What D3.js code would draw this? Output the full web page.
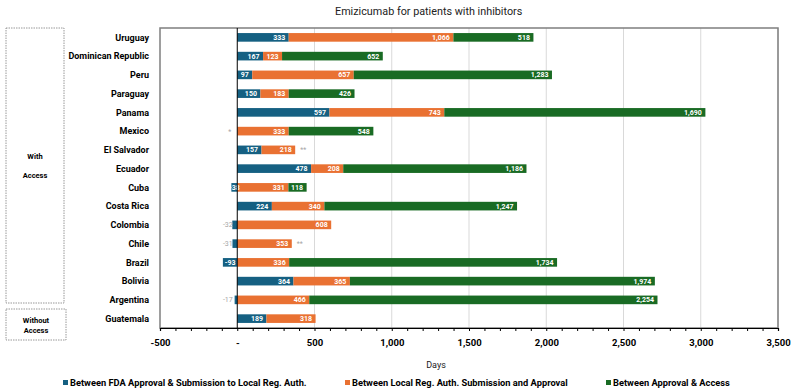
<!DOCTYPE html>
<html><head><meta charset="utf-8">
<script src="https://cdn.jsdelivr.net/npm/d3@7"></script>
<style>
body{margin:0;background:#fff;}
svg{display:block;font-family:Roboto, "Liberation Sans", sans-serif;}
</style></head>
<body><svg id="c" width="794" height="391"></svg>
<script>
const title = "Emizicumab for patients with inhibitors";
const countries = ["Uruguay","Dominican Republic","Peru","Paraguay","Panama","Mexico","El Salvador","Ecuador","Cuba","Costa Rica","Colombia","Chile","Brazil","Bolivia","Argentina","Guatemala"];
const fdaToSubmission   = [333,167,97,150,597,0,157,478,-38,224,-32,-31,-93,364,-17,189];
const submissionToApproval = [1066,123,657,183,743,333,218,208,331,340,608,353,336,365,466,318];
const approvalToAccess  = [518,652,1283,426,1690,548,0,1186,118,1247,0,0,1734,1974,2254,0];
const beforeNotes = ["","","","","","*","","","","","","","","","",""];
const afterNotes  = ["","","","","","","**","","","","","**","","","",""];
const seriesNames = ["Between FDA Approval & Submission to Local Reg. Auth.","Between Local Reg. Auth. Submission and Approval","Between Approval & Access"];
const tickValues = [-500,0,500,1000,1500,2000,2500,3000,3500];
const groups = [{label:["With","Access"]},{label:["Without","Access"]}];
const colors = ["#156082","#E97132","#196B24"];

const fmt = d3.formatLocale({decimal:".",thousands:",",grouping:[3],currency:["$",""],minus:"-"}).format(",");

const svg = d3.select("#c");
const m = {l:160, r:778, t:28, b:328};
const x = d3.scaleLinear().domain([-500,3500]).range([m.l,m.r]);
const y = d3.scaleBand().domain(countries).range([m.t,m.b]).paddingInner(0.54).paddingOuter(0.27);

const keys = ["a","b","c"];
const rows = countries.map((c,i)=>({country:c,a:fdaToSubmission[i],b:submissionToApproval[i],c:approvalToAccess[i],i}));
const stacked = d3.stack().keys(keys).offset(d3.stackOffsetDiverging)(rows);

// gridlines
svg.append("g").selectAll("line").data(d3.range(0,3501,500)).join("line")
  .attr("x1",d=>x(d)).attr("x2",d=>x(d)).attr("y1",m.t).attr("y2",m.b)
  .attr("stroke",d=>d===0?"none":"#d9d9d9").attr("stroke-width",1);

// plot border
svg.append("rect").attr("x",m.l).attr("y",m.t).attr("width",m.r-m.l).attr("height",m.b-m.t)
  .attr("fill","none").attr("stroke","#7f7f7f").attr("stroke-width",1.5);

// bars
stacked.forEach((s,si)=>{
  svg.append("g").selectAll("rect").data(s.filter(d=>d[1]!==d[0])).join("rect")
    .attr("x",d=>x(Math.min(d[0],d[1]))).attr("width",d=>Math.abs(x(d[1])-x(d[0])))
    .attr("y",d=>y(d.data.country)).attr("height",y.bandwidth())
    .attr("fill",colors[si]);
});

// labels
const lab = svg.append("g").attr("font-size","7px").attr("font-weight","700");
stacked.forEach((s,si)=>{
  s.forEach(d=>{
    const v = d.data[keys[si]];
    if(!v) return;
    const cy = y(d.data.country)+y.bandwidth()/2;
    const txt = fmt(v);
    if(v>0){
      lab.append("text").attr("x",x(d[1])-3.5).attr("y",cy).attr("dy","0.35em")
        .attr("text-anchor","end").attr("fill","#fff").text(txt);
    } else if(Math.abs(v)>=35){
      lab.append("text").attr("x",(x(d[0])+x(d[1]))/2).attr("y",cy).attr("dy","0.35em")
        .attr("text-anchor","middle").attr("fill","#fff").text(txt);
    } else {
      lab.append("text").attr("x",x(0)-4.5).attr("y",cy).attr("dy","0.35em")
        .attr("text-anchor","end").attr("fill","#a6a6a6").attr("font-weight","400").text(txt);
    }
  });
});
// notes
rows.forEach(r=>{
  const cy = y(r.country)+y.bandwidth()/2;
  if(beforeNotes[r.i]) lab.append("text").attr("x",x(0)-6).attr("y",cy).attr("dy","0.35em")
    .attr("text-anchor","end").attr("fill","#a6a6a6").attr("font-weight","400").text(beforeNotes[r.i]);
  if(afterNotes[r.i]){
    const end = Math.max(0,r.a)+Math.max(0,r.b)+Math.max(0,r.c);
    lab.append("text").attr("x",x(end)+5).attr("y",cy).attr("dy","0.35em")
      .attr("text-anchor","start").attr("fill","#a6a6a6").attr("font-weight","400").text(afterNotes[r.i]);
  }
});

// zero line
svg.append("line").attr("x1",x(0)).attr("x2",x(0)).attr("y1",m.t).attr("y2",m.b).attr("stroke","#000").attr("stroke-width",1);

// x axis
const ax = svg.append("g").attr("transform",`translate(0,${m.b})`)
  .call(d3.axisBottom(x).tickValues(d3.range(-500,3501,100)).tickSize(3).tickFormat(""));
ax.select(".domain").attr("stroke","#000").attr("stroke-width",1.2);
ax.selectAll(".tick line").attr("stroke","#000");
const ax2 = svg.append("g").attr("transform",`translate(0,${m.b})`)
  .call(d3.axisBottom(x).tickValues(tickValues).tickSize(0).tickPadding(11).tickFormat(d=>d===0?"-":fmt(d)));
ax2.select(".domain").remove();
ax2.selectAll("text").attr("font-size","9.5px").attr("font-weight","700").attr("fill","#000").attr("font-family","Roboto");

// country labels
svg.append("g").selectAll("text").data(countries).join("text")
  .attr("x",149).attr("y",d=>y(d)+y.bandwidth()/2).attr("dy","0.35em")
  .attr("text-anchor","end").attr("font-size","9px").attr("font-weight","700").attr("fill","#000").text(d=>d);

// group boxes
groups.forEach((g,gi)=>{
  const top = gi===0? m.t : 309;
  const bot = gi===0? 303 : 340;
  svg.append("rect").attr("x",6).attr("y",top).attr("width",gi===0?58:60).attr("height",bot-top)
    .attr("fill","none").attr("stroke","#7f7f7f").attr("stroke-width",0.8).attr("stroke-dasharray","1.5,1");
  const cyc = gi===0? [156,175] : [320,330];
  g.label.forEach((t,ti)=>svg.append("text").attr("x",gi===0?35:36).attr("y",cyc[ti]).attr("dy","0.35em")
    .attr("text-anchor","middle").attr("font-size","7.5px").attr("font-weight","700").text(t));
});

// title
svg.append("text").attr("x",335).attr("y",11).attr("dy","0.35em").attr("font-size","10.8px").attr("fill","#222").text(title);
// axis title
svg.append("text").attr("x",436).attr("y",365).attr("dy","0.35em").attr("text-anchor","middle").attr("font-size","9px").attr("fill","#222").text("Days");

// legend
const legX = [63,345,606];
const leg = svg.append("g");
seriesNames.forEach((n,i)=>{
  leg.append("rect").attr("x",legX[i]).attr("y",380).attr("width",5).attr("height",5).attr("fill",colors[i]);
  leg.append("text").attr("x",legX[i]+7).attr("y",383).attr("dy","0.35em").attr("font-size","9.3px").attr("font-weight","700").attr("fill","#000").text(n);
});
</script></body></html>
